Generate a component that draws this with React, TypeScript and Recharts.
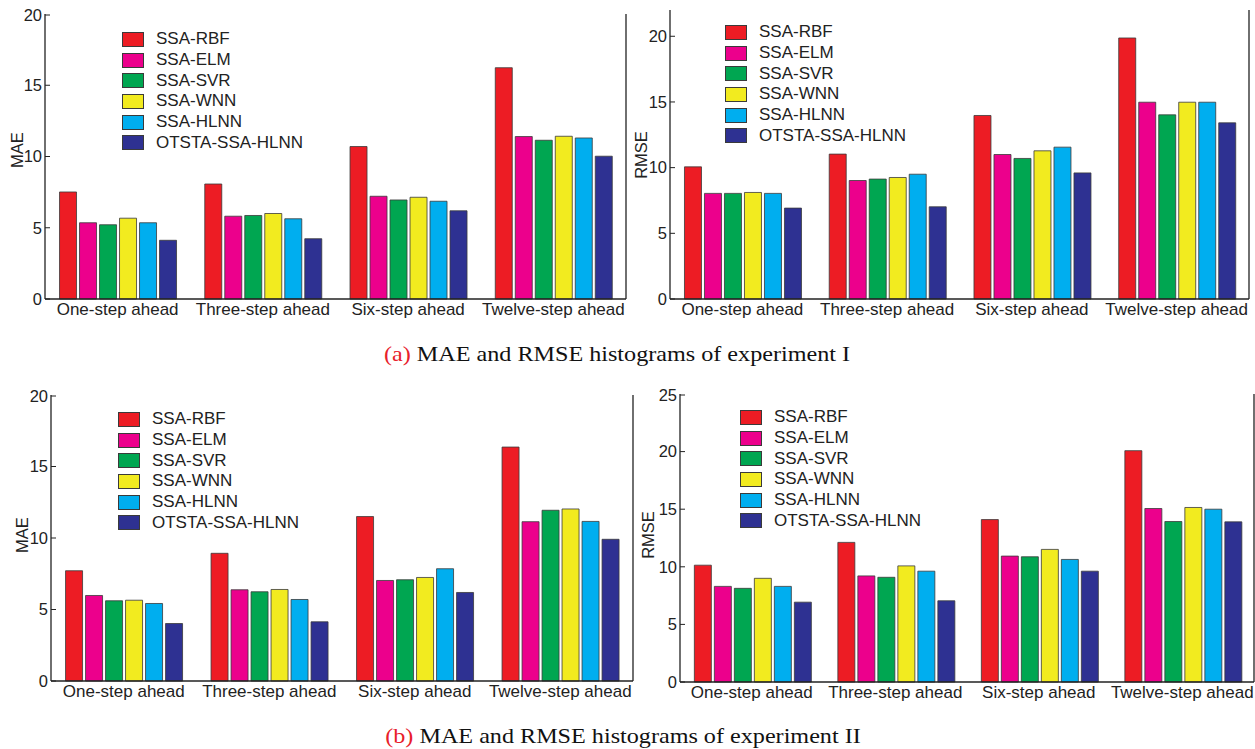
import { BarChart, Bar, XAxis, YAxis } from "recharts";

const categories = ["One-step ahead", "Three-step ahead", "Six-step ahead", "Twelve-step ahead"];
const models = ["SSA-RBF", "SSA-ELM", "SSA-SVR", "SSA-WNN", "SSA-HLNN", "OTSTA-SSA-HLNN"];
const colors = ["#ED1C24", "#EC008C", "#00A651", "#F2EB1F", "#00AEEF", "#2E3192"];

// one row per model, one value per category
const maeExp1 = [
  [7.51, 8.07, 10.7, 16.23],
  [5.35, 5.81, 7.21, 11.4],
  [5.21, 5.86, 6.95, 11.14],
  [5.67, 6.0, 7.14, 11.42],
  [5.35, 5.63, 6.86, 11.3],
  [4.12, 4.23, 6.19, 10.02],
];
const rmseExp1 = [
  [10.06, 11.03, 13.97, 19.87],
  [8.04, 9.02, 11.0, 14.98],
  [8.04, 9.13, 10.7, 14.02],
  [8.11, 9.25, 11.28, 14.98],
  [8.04, 9.5, 11.56, 14.98],
  [6.92, 7.02, 9.6, 13.41],
];
const maeExp2 = [
  [7.71, 8.93, 11.5, 16.36],
  [5.98, 6.38, 7.03, 11.14],
  [5.61, 6.24, 7.08, 11.94],
  [5.65, 6.4, 7.24, 12.03],
  [5.42, 5.7, 7.85, 11.16],
  [4.02, 4.14, 6.19, 9.91],
];
const rmseExp2 = [
  [10.14, 12.12, 14.1, 20.08],
  [8.3, 9.21, 10.93, 15.06],
  [8.13, 9.09, 10.87, 13.93],
  [9.0, 10.08, 11.51, 15.15],
  [8.3, 9.62, 10.64, 15.0],
  [6.93, 7.05, 9.62, 13.9],
];

const ticks20 = [0, 5, 10, 15, 20];
const ticks25 = [0, 5, 10, 15, 20, 25];

const FONT = '"Liberation Sans", Arial, sans-serif';
const SERIF = '"Liberation Serif", "Times New Roman", serif';
const INK = "#222";

const toRows = (vals: number[][]) =>
  categories.map((name, i) => {
    const row: Record<string, any> = { name };
    vals.forEach((v, m) => (row["m" + m] = v[i]));
    return row;
  });

function LeftTick(p: any) {
  const { x, y, payload } = p;
  return (
    <g>
      <line x1={x} x2={x + 5} y1={y} y2={y} stroke={INK} strokeWidth={1} />
      <text x={x - 3} y={y} dy="0.35em" textAnchor="end" fontSize={16.5} fill={INK} fontFamily={FONT}>
        {payload.value}
      </text>
    </g>
  );
}

function RightTick(p: any) {
  const { x, y } = p;
  return <line x1={x} x2={x - 5} y1={y} y2={y} stroke={INK} strokeWidth={1} />;
}

interface PanelProps {
  vals: number[][];
  plotLeft: number;
  plotTop: number;
  plotW: number;
  plotH: number;
  yMax: number;
  ticks: number[];
  yLabel: string;
  labelX: number;
  labelY: number;
  legendLeft: number;
  legendTop: number;
}

function Panel({ vals, plotLeft, plotTop, plotW, plotH, yMax, ticks, yLabel, labelX, labelY, legendLeft, legendTop }: PanelProps) {
  const ML = 50;
  const MT = 8;
  const MR = 2;
  const XH = 30;
  const rows = toRows(vals);
  return (
    <>
      <div style={{ position: "absolute", left: plotLeft - ML, top: plotTop - MT }}>
        <BarChart
          width={plotW + ML + MR}
          height={plotH + MT + XH}
          data={rows}
          margin={{ top: MT, right: 0, left: 0, bottom: 0 }}
          barCategoryGap="10%"
          barGap={3}
        >
          <XAxis
            dataKey="name"
            xAxisId="b"
            height={XH}
            interval={0}
            tickLine={false}
            tickSize={0}
            tickMargin={4}
            axisLine={{ stroke: INK, strokeWidth: 1.3 }}
            tick={{ fontSize: 17, fill: INK, fontFamily: FONT }}
          />
          <XAxis
            dataKey="name"
            xAxisId="t"
            orientation="top"
            height={0}
            tick={false}
            tickLine={false}
            axisLine={{ stroke: INK, strokeWidth: 1.3 }}
          />
          <YAxis
            yAxisId="l"
            width={ML}
            domain={[0, yMax]}
            ticks={ticks}
            tickSize={0}
            tickMargin={0}
            tickLine={false}
            axisLine={{ stroke: INK, strokeWidth: 1.3 }}
            tick={(p: any) => <LeftTick {...p} />}
          />
          <YAxis
            yAxisId="r"
            orientation="right"
            width={MR}
            domain={[0, yMax]}
            ticks={ticks}
            tickSize={0}
            tickMargin={0}
            tickLine={false}
            axisLine={{ stroke: INK, strokeWidth: 1.3 }}
            tick={(p: any) => <RightTick {...p} />}
          />
          {models.map((m, i) => (
            <Bar
              key={m}
              dataKey={"m" + i}
              name={m}
              xAxisId="b"
              yAxisId="l"
              fill={colors[i]}
              stroke="#3a3a3a"
              strokeWidth={0.8}
              isAnimationActive={false}
            />
          ))}
        </BarChart>
      </div>
      <div
        style={{
          position: "absolute",
          left: labelX,
          top: labelY,
          transform: "translate(-50%, -50%) rotate(-90deg)",
          fontFamily: FONT,
          fontSize: 16.5,
          color: INK,
          whiteSpace: "nowrap",
        }}
      >
        {yLabel}
      </div>
      <div style={{ position: "absolute", left: legendLeft, top: legendTop, fontFamily: FONT, fontSize: 17, color: INK }}>
        {models.map((m, i) => (
          <div key={m} style={{ display: "flex", alignItems: "center", height: 20.7 }}>
            <div
              style={{
                width: 22,
                height: 15,
                boxSizing: "border-box",
                background: colors[i],
                border: "1px solid #3a3a3a",
                marginRight: 12,
              }}
            />
            <span style={{ whiteSpace: "nowrap" }}>{m}</span>
          </div>
        ))}
      </div>
    </>
  );
}

function Caption({ tag, text, cx, cy }: { tag: string; text: string; cx: number; cy: number }) {
  return (
    <div
      style={{
        position: "absolute",
        left: cx,
        top: cy,
        transform: "translate(-50%, -50%) scaleX(1.15)",
        fontFamily: SERIF,
        fontSize: 21,
        color: "#111",
        whiteSpace: "nowrap",
      }}
    >
      <span style={{ color: "#E8202A" }}>{tag}</span> {text}
    </div>
  );
}

export default function App() {
  return (
    <div
      style={{
        position: "absolute",
        left: 0,
        top: 0,
        width: 1255,
        height: 749,
        overflow: "hidden",
        background: "#fff",
      }}
    >
      <Panel
        vals={maeExp1}
        plotLeft={45}
        plotTop={14}
        plotW={581}
        plotH={285}
        yMax={20}
        ticks={ticks20}
        yLabel="MAE"
        labelX={17}
        labelY={150}
        legendLeft={122}
        legendTop={29}
      />
      <Panel
        vals={rmseExp1}
        plotLeft={670}
        plotTop={10}
        plotW={579}
        plotH={289}
        yMax={22}
        ticks={ticks20}
        yLabel="RMSE"
        labelX={641}
        labelY={155}
        legendLeft={725}
        legendTop={22}
      />
      <Panel
        vals={maeExp2}
        plotLeft={51}
        plotTop={395}
        plotW={582}
        plotH={286}
        yMax={20}
        ticks={ticks20}
        yLabel="MAE"
        labelX={22}
        labelY={535}
        legendLeft={118}
        legendTop={409}
      />
      <Panel
        vals={rmseExp2}
        plotLeft={680}
        plotTop={394}
        plotW={574}
        plotH={288}
        yMax={25}
        ticks={ticks25}
        yLabel="RMSE"
        labelX={648}
        labelY={535}
        legendLeft={740}
        legendTop={407}
      />
      <Caption tag="(a)" text="MAE and RMSE histograms of experiment I" cx={617} cy={354} />
      <Caption tag="(b)" text="MAE and RMSE histograms of experiment II" cx={623} cy={736} />
    </div>
  );
}
